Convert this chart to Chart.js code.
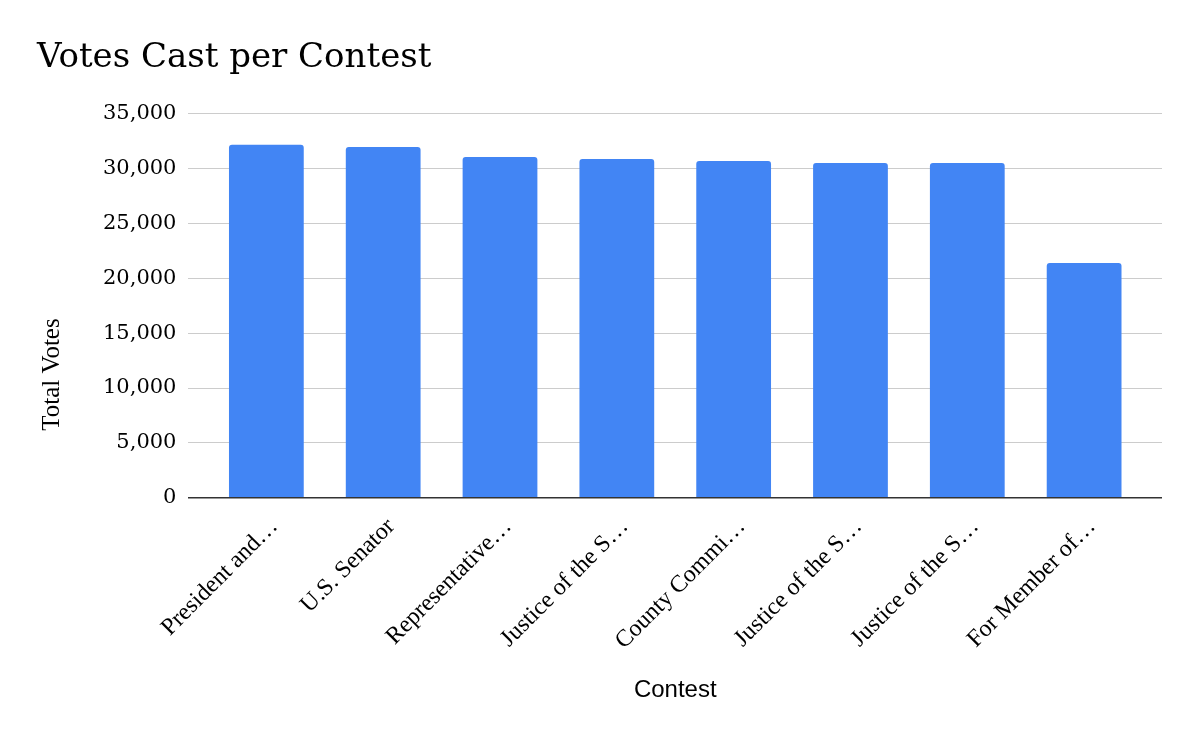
<!DOCTYPE html>
<html>
<head>
<meta charset="utf-8">
<script src="https://cdn.jsdelivr.net/npm/chart.js@4"></script>
<style>
  html, body { margin: 0; padding: 0; background: #ffffff; }
  #wrap { width: 1200px; height: 742px; position: relative; }
</style>
</head>
<body>
<div id="wrap"><canvas id="votes-canvas"></canvas></div>
<script>
const contests = [
  "President and…",
  "U.S. Senator",
  "Representative…",
  "Justice of the S…",
  "County Commi…",
  "Justice of the S…",
  "Justice of the S…",
  "For Member of…",
];
const totalVotes = [32180, 31970, 31060, 30870, 30690, 30510, 30510, 21400];
const yTicks = [0, 5000, 10000, 15000, 20000, 25000, 30000, 35000];

const serif = '"DejaVu Serif", Georgia, serif';
const timesLike = '"Liberation Serif", "Times New Roman", serif';

// the sheet puts the axis title below the middle of the axis; trailing spaces push it down
const yTitle = "Total Votes" + " ".repeat(22);

function votesConfig() {
  return {
    type: "bar",
    data: {
      datasets: [
        {
          label: "Total Votes",
          data: totalVotes.map((v, i) => ({ x: i, y: v })),
          backgroundColor: "#4285F4",
          borderRadius: 3,
          barPercentage: 0.64,
          categoryPercentage: 1.0,
        },
      ],
    },
    options: {
      responsive: true,
      maintainAspectRatio: false,
      animation: false,
      devicePixelRatio: 1,
      layout: {
        padding: { top: 38, bottom: 37, left: 37, right: 38 },
      },
      plugins: {
        legend: { display: false },
        tooltip: { enabled: false },
        title: {
          display: true,
          text: "Votes Cast per Contest",
          align: "start",
          color: "#000000",
          font: { family: serif, size: 34, weight: "normal" },
          padding: { top: 0, bottom: 35 },
        },
      },
      scales: {
        x: {
          type: "linear",
          min: -2 / 3,
          max: 7 + 2 / 3,
          offset: false,
          grid: { display: false },
          border: { display: false },
          afterBuildTicks: (axis) => {
            axis.ticks = contests.map((_, i) => ({ value: i }));
          },
          ticks: {
            autoSkip: false,
            minRotation: 45,
            maxRotation: 45,
            labelOffset: 8,
            color: "#000000",
            padding: 7,
            font: { family: timesLike, size: 24 },
            callback: (value) => contests[value] ?? "",
          },
          title: {
            display: true,
            text: "Contest",
            color: "#000000",
            font: { family: '"Liberation Sans", Arial, sans-serif', size: 24 },
            padding: { top: 14, bottom: 0 },
          },
        },
        y: {
          min: 0,
          max: 35000,
          afterBuildTicks: (axis) => {
            axis.ticks = yTicks.map((v) => ({ value: v }));
          },
          grid: {
            drawTicks: false,
            color: (ctx) => (ctx.tick && ctx.tick.value === 0 ? "#333333" : "#cccccc"),
            lineWidth: (ctx) => (ctx.tick && ctx.tick.value === 0 ? 1.5 : 1),
          },
          border: { display: false },
          ticks: {
            color: "#000000",
            padding: 12,
            font: { family: serif, size: 21 },
            callback: (value) => value.toLocaleString("en-US"),
          },
          title: {
            display: true,
            text: yTitle,
            color: "#000000",
            font: { family: timesLike, size: 25 },
            padding: { top: 0, bottom: 24 },
          },
        },
      },
    },
  };
}

const ctx = document.getElementById("votes-canvas").getContext("2d");
window.votesChart = new Chart(ctx, votesConfig());
</script>
</body>
</html>
